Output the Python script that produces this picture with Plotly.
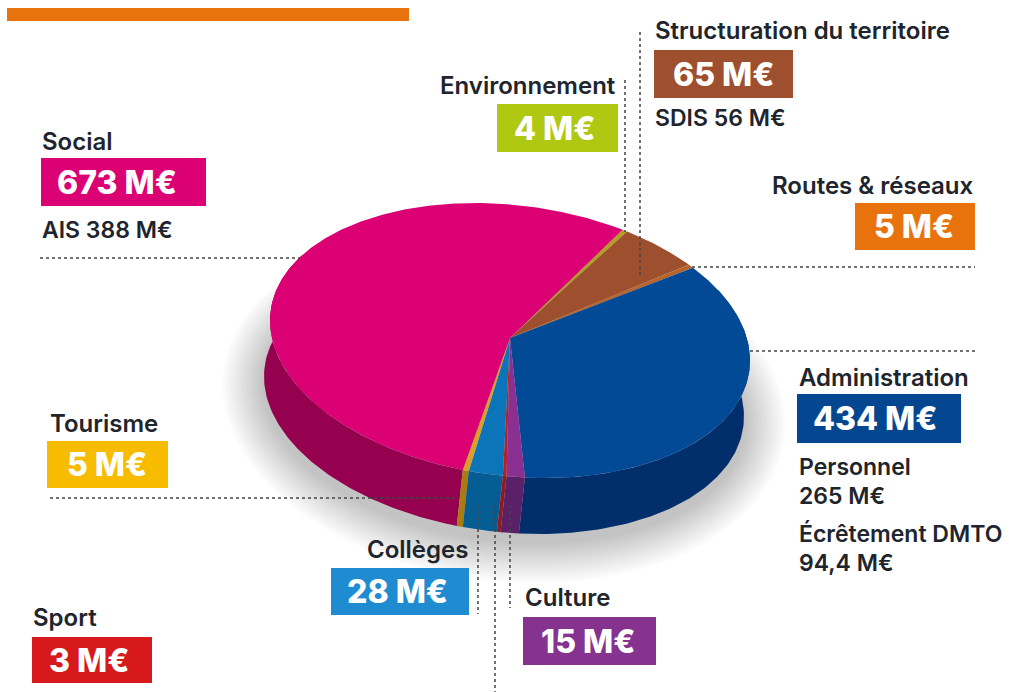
import numpy as np
import plotly.graph_objects as go

# ---- data (M€), clockwise from the Social / Environnement seam
categories = ["Environnement", "Structuration du territoire", "Routes & réseaux", "Administration",
              "Culture", "Sport", "Collèges", "Tourisme", "Social"]
values = [4, 65, 5, 434, 15, 3, 28, 5, 673]
top_colors = ["#B0A020", "#9E4F2E", "#B8642A", "#034A96", "#8A3093", "#B5202A", "#0C75BA", "#D8A028", "#DB0073"]
wall_colors = ["#7C8A10", "#6E3620", "#A85008", "#022F6B", "#5A2068", "#8F1B22", "#055D93", "#A87C10", "#95004F"]
value_labels = ["4 M€", "65 M€", "5 M€", "434 M€", "15 M€", "3 M€", "28 M€", "5 M€", "673 M€"]
box_colors = ["#B1C813", "#9E4F2E", "#E8730C", "#04468F", "#86328F", "#D7191C", "#1F8BD0", "#F7BC00", "#DB0073"]

# ---- layout (pixel-based axes)
START = 28.0
CX, CY, AX, TILT, BY = 510, 340.5, 240, 20, 136
BCX, BCY = 504, 396.5
APEX = (510, 338)

boxes = [(497, 104, 618, 152), (654, 50, 793, 98), (855, 203, 975, 250), (797, 394, 961, 443),
         (523, 617, 656, 665), (32, 637, 152, 683), (331, 568, 469, 615), (47, 441, 168, 488), (41, 158, 206, 206)]
box_text_shift = [-3, 0, -1, -4, -2, -3, -3, -1, -7]
names = [(618, 85, "right"), (653, 30, "left"), (976, 185, "right"), (797, 377, "left"),
         (523, 597, "left"), (31, 617, "left"), (470, 549, "right"), (48, 423, "left"), (40, 141, "left")]
notes = [("AIS 388 M€", 40, 230), ("SDIS 56 M€", 653, 118), ("Personnel", 797, 467), ("265 M€", 797, 496),
         ("Écrêtement DMTO", 797, 534), ("94,4 M€", 797, 563)]
leaders = [(40, 258, 300, 258), (625, 80, 625, 232), (640, 32, 640, 276), (692, 267, 975, 267),
           (750, 351, 975, 351), (50, 498, 458, 498), (478, 505, 478, 614), (495, 505, 495, 692), (510, 505, 510, 608)]

FONT = "Inter, Lato, 'Open Sans', sans-serif"
INK = "#20242c"


def rim(t_deg, cx, cy):
    t = np.radians(t_deg)
    return cx + AX * np.sin(t), cy + TILT * np.sin(t) - BY * np.cos(t)


fig = go.Figure()


def poly(x, y, color):
    fig.add_trace(go.Scatter(x=x, y=y, mode="lines", fill="toself", fillcolor=color,
                             line=dict(width=0, color=color), hoverinfo="skip", showlegend=False))


# soft halo under the pie
for r in np.linspace(42, 2, 20):
    t = np.linspace(0, 2 * np.pi, 121)
    poly(BCX + (AX + r) * np.sin(t), BCY + 8 + TILT * np.sin(t) - (BY + r) * np.cos(t), "rgba(0,0,0,0.013)")

# slice angles from the values
edges = START + np.concatenate([[0], np.cumsum(values)]) * 360 / sum(values)
spans = list(zip(edges[:-1], edges[1:]))

# walls, only the front range is visible
order = sorted(range(len(values)), key=lambda i: -abs((spans[i][0] + spans[i][1]) / 2 - 180))
for i in order:
    a0, a1 = max(spans[i][0], 60), min(spans[i][1], 300)
    if a1 <= a0:
        continue
    t = np.linspace(a0, a1, 120)
    x1, y1 = rim(t, CX, CY)
    x2, y2 = rim(t[::-1], BCX, BCY)
    poly(np.r_[x1, x2, x1[0]], np.r_[y1, y2, y1[0]], wall_colors[i])

# top faces
for i in range(len(values)):
    t = np.linspace(spans[i][0], spans[i][1], max(int(spans[i][1] - spans[i][0]) * 2, 6))
    x, y = rim(t, CX, CY)
    poly(np.r_[APEX[0], x, APEX[0]], np.r_[APEX[1], y, APEX[1]], top_colors[i])

shapes = [dict(type="rect", xref="x", yref="y", x0=7, y0=8, x1=409, y1=21,
               fillcolor="#E8730C", line_width=0)]
for x0, y0, x1, y1 in leaders:
    shapes.append(dict(type="line", xref="x", yref="y", x0=x0, y0=y0, x1=x1, y1=y1,
                       line=dict(color="#444", width=1.5, dash="dot"), layer="above"))
for (x0, y0, x1, y1), c in zip(boxes, box_colors):
    shapes.append(dict(type="rect", xref="x", yref="y", x0=x0, y0=y0, x1=x1, y1=y1,
                       fillcolor=c, line_width=0, layer="above"))

anns = []
for (x0, y0, x1, y1), lab, dx in zip(boxes, value_labels, box_text_shift):
    anns.append(dict(x=(x0 + x1) / 2 + dx, y=(y0 + y1) / 2, text=lab, showarrow=False, xanchor="center", yanchor="middle",
                     font=dict(family=FONT, size=32, color="white", weight=800)))
for (x, y, al), nm in zip(names, categories):
    anns.append(dict(x=x, y=y, text=nm, showarrow=False, xanchor=al, yanchor="middle",
                     font=dict(family=FONT, size=24, color=INK, weight=600)))
for txt, x, y in notes:
    anns.append(dict(x=x, y=y, text=txt, showarrow=False, xanchor="left", yanchor="middle",
                     font=dict(family=FONT, size=23, color=INK, weight=600)))

fig.update_layout(
    width=1009, height=692, autosize=False, margin=dict(l=0, r=0, t=0, b=0),
    paper_bgcolor="white", plot_bgcolor="white", showlegend=False,
    xaxis=dict(range=[0, 1009], visible=False, fixedrange=True),
    yaxis=dict(range=[692, 0], visible=False, fixedrange=True),
    shapes=shapes, annotations=anns,
)
fig.write_html("out.html", config={"displayModeBar": False},
               post_script="document.body.style.margin='0';document.documentElement.style.overflow='hidden';")
